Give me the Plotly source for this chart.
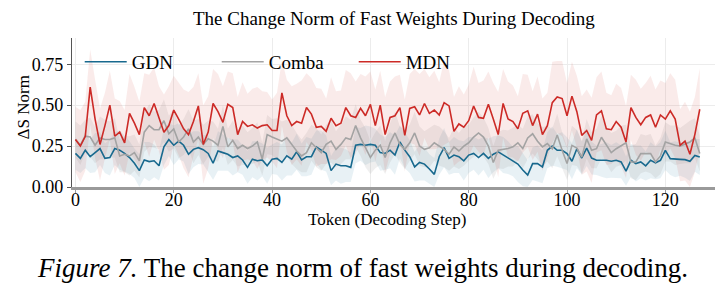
import plotly.graph_objects as go

tokens = list(range(128))

mdn_mean = [0.29, 0.25, 0.31, 0.61, 0.415, 0.26, 0.375, 0.50, 0.31, 0.335, 0.27, 0.45, 0.39, 0.32, 0.485, 0.435,
            0.51, 0.415, 0.335, 0.375, 0.47, 0.415, 0.355, 0.32, 0.40, 0.495, 0.26, 0.335, 0.51, 0.46, 0.395, 0.505,
            0.485, 0.32, 0.40, 0.37, 0.38, 0.36, 0.375, 0.38, 0.345, 0.345, 0.575, 0.435, 0.375, 0.40, 0.39, 0.485,
            0.445, 0.365, 0.37, 0.34, 0.42, 0.375, 0.39, 0.485, 0.435, 0.425, 0.48, 0.435, 0.505, 0.375, 0.50, 0.32,
            0.425, 0.435, 0.485, 0.315, 0.48, 0.49, 0.44, 0.51, 0.45, 0.47, 0.44, 0.515, 0.495, 0.34, 0.385, 0.365,
            0.405, 0.495, 0.425, 0.42, 0.505, 0.415, 0.32, 0.51, 0.415, 0.40, 0.355, 0.45, 0.465, 0.375, 0.445, 0.32,
            0.375, 0.515, 0.55, 0.54, 0.435, 0.555, 0.46, 0.315, 0.345, 0.285, 0.44, 0.465, 0.355, 0.35, 0.40, 0.365,
            0.275, 0.485, 0.425, 0.38, 0.425, 0.44, 0.365, 0.44, 0.415, 0.465, 0.415, 0.255, 0.28, 0.20, 0.32, 0.475]

gdn_mean = [0.205, 0.175, 0.225, 0.185, 0.21, 0.235, 0.175, 0.18, 0.235, 0.225, 0.205, 0.18, 0.145, 0.10, 0.165, 0.155,
            0.16, 0.13, 0.245, 0.29, 0.255, 0.28, 0.255, 0.20, 0.23, 0.24, 0.228, 0.205, 0.145, 0.22, 0.21, 0.20,
            0.18, 0.19, 0.165, 0.12, 0.17, 0.16, 0.165, 0.13, 0.17, 0.175, 0.15, 0.19, 0.17, 0.215, 0.165, 0.185,
            0.185, 0.245, 0.225, 0.205, 0.10, 0.14, 0.13, 0.13, 0.12, 0.255, 0.26, 0.255, 0.26, 0.255, 0.21, 0.205,
            0.225, 0.195, 0.275, 0.225, 0.185, 0.123, 0.15, 0.14, 0.11, 0.077, 0.185, 0.24, 0.175, 0.195, 0.185, 0.16,
            0.195, 0.205, 0.18, 0.205, 0.175, 0.20, 0.215, 0.195, 0.18, 0.155, 0.14, 0.104, 0.073, 0.143, 0.143, 0.123,
            0.224, 0.25, 0.224, 0.224, 0.204, 0.157, 0.234, 0.177, 0.238, 0.177, 0.163, 0.163, 0.163, 0.157, 0.163, 0.153,
            0.097, 0.163, 0.143, 0.153, 0.129, 0.163, 0.147, 0.163, 0.224, 0.173, 0.169, 0.169, 0.167, 0.157, 0.193, 0.183]

comba_mean = [0.29, 0.255, 0.31, 0.305, 0.255, 0.30, 0.29, 0.29, 0.30, 0.19, 0.20, 0.19, 0.21, 0.16, 0.335, 0.375,
              0.35, 0.35, 0.405, 0.325, 0.355, 0.275, 0.305, 0.355, 0.275, 0.305, 0.26, 0.295, 0.28, 0.255, 0.37, 0.245,
              0.285, 0.235, 0.255, 0.235, 0.25, 0.275, 0.17, 0.32, 0.305, 0.29, 0.28, 0.30, 0.26, 0.22, 0.19, 0.21,
              0.27, 0.24, 0.21, 0.26, 0.28, 0.23, 0.26, 0.30, 0.29, 0.375, 0.30, 0.24, 0.18, 0.225, 0.255, 0.18,
              0.27, 0.33, 0.26, 0.23, 0.27, 0.33, 0.25, 0.23, 0.24, 0.27, 0.25, 0.23, 0.20, 0.245, 0.22, 0.25,
              0.27, 0.305, 0.33, 0.305, 0.25, 0.15, 0.225, 0.23, 0.235, 0.245, 0.27, 0.235, 0.30, 0.325, 0.28, 0.245,
              0.265, 0.234, 0.318, 0.224, 0.143, 0.254, 0.238, 0.183, 0.294, 0.224, 0.234, 0.304, 0.254, 0.21, 0.234, 0.254,
              0.27, 0.153, 0.153, 0.204, 0.204, 0.204, 0.153, 0.19, 0.275, 0.265, 0.255, 0.25, 0.265, 0.275, 0.30, 0.205]

mdn_std = [0.20, 0.22, 0.21, 0.23, 0.24, 0.22, 0.20, 0.21, 0.23, 0.19, 0.20, 0.24, 0.22, 0.20, 0.21, 0.25,
           0.22, 0.20, 0.23, 0.24, 0.21, 0.22, 0.24, 0.26, 0.21, 0.20, 0.24, 0.22, 0.21, 0.23, 0.22, 0.20,
           0.21, 0.23, 0.24, 0.20, 0.22, 0.25, 0.21, 0.20, 0.19, 0.23, 0.20, 0.22, 0.24, 0.23, 0.26, 0.21,
           0.22, 0.24, 0.23, 0.20, 0.25, 0.21, 0.20, 0.23, 0.26, 0.22, 0.21, 0.24, 0.20, 0.22, 0.21, 0.23,
           0.22, 0.24, 0.20, 0.22, 0.21, 0.23, 0.25, 0.21, 0.22, 0.24, 0.20, 0.26, 0.22, 0.21, 0.23, 0.20,
           0.22, 0.24, 0.21, 0.23, 0.20, 0.22, 0.26, 0.21, 0.23, 0.22, 0.20, 0.24, 0.22, 0.21, 0.23, 0.22,
           0.20, 0.25, 0.22, 0.23, 0.20, 0.21, 0.22, 0.24, 0.25, 0.26, 0.23, 0.24, 0.22, 0.21, 0.23, 0.24,
           0.22, 0.20, 0.23, 0.22, 0.21, 0.24, 0.23, 0.21, 0.22, 0.23, 0.24, 0.22, 0.24, 0.26, 0.23, 0.25]

gdn_std = [0.10, 0.09, 0.11, 0.10, 0.12, 0.10, 0.09, 0.11, 0.10, 0.12, 0.11, 0.10, 0.09, 0.10, 0.11, 0.12,
           0.10, 0.09, 0.11, 0.10, 0.12, 0.11, 0.10, 0.12, 0.11, 0.10, 0.09, 0.11, 0.10, 0.12, 0.11, 0.10,
           0.11, 0.10, 0.09, 0.10, 0.11, 0.12, 0.10, 0.11, 0.09, 0.10, 0.11, 0.12, 0.10, 0.11, 0.10, 0.12,
           0.11, 0.10, 0.12, 0.11, 0.09, 0.10, 0.11, 0.10, 0.09, 0.11, 0.10, 0.12, 0.11, 0.10, 0.11, 0.10,
           0.11, 0.12, 0.10, 0.11, 0.10, 0.09, 0.11, 0.10, 0.09, 0.10, 0.11, 0.12, 0.10, 0.11, 0.10, 0.12,
           0.11, 0.10, 0.11, 0.10, 0.12, 0.11, 0.10, 0.11, 0.10, 0.09, 0.11, 0.10, 0.09, 0.10, 0.11, 0.10,
           0.11, 0.12, 0.10, 0.11, 0.10, 0.11, 0.12, 0.10, 0.11, 0.10, 0.09, 0.10, 0.11, 0.10, 0.11, 0.10,
           0.09, 0.10, 0.11, 0.10, 0.09, 0.11, 0.10, 0.11, 0.12, 0.10, 0.11, 0.10, 0.11, 0.12, 0.10, 0.11]

comba_std = [0.11, 0.12, 0.10, 0.12, 0.11, 0.13, 0.12, 0.11, 0.12, 0.10, 0.11, 0.12, 0.11, 0.10, 0.12, 0.13,
             0.11, 0.12, 0.13, 0.11, 0.12, 0.10, 0.11, 0.12, 0.13, 0.11, 0.12, 0.11, 0.12, 0.10, 0.13, 0.11,
             0.12, 0.11, 0.12, 0.10, 0.11, 0.12, 0.10, 0.12, 0.11, 0.13, 0.12, 0.11, 0.12, 0.11, 0.10, 0.12,
             0.11, 0.12, 0.11, 0.12, 0.13, 0.11, 0.12, 0.13, 0.12, 0.13, 0.11, 0.12, 0.10, 0.11, 0.12, 0.10,
             0.12, 0.13, 0.11, 0.12, 0.11, 0.13, 0.12, 0.11, 0.12, 0.11, 0.12, 0.11, 0.10, 0.12, 0.11, 0.12,
             0.11, 0.12, 0.13, 0.12, 0.11, 0.10, 0.11, 0.12, 0.11, 0.12, 0.11, 0.12, 0.13, 0.12, 0.11, 0.12,
             0.11, 0.12, 0.13, 0.11, 0.10, 0.12, 0.11, 0.10, 0.12, 0.11, 0.12, 0.13, 0.11, 0.12, 0.11, 0.12,
             0.11, 0.10, 0.11, 0.12, 0.11, 0.12, 0.10, 0.11, 0.12, 0.11, 0.12, 0.11, 0.12, 0.13, 0.12, 0.11]

series_names = ["GDN", "Comba", "MDN"]
line_colors = ["#18698e", "#a3a3a3", "#cc2a26"]
band_colors = ["rgba(80,150,175,0.13)", "rgba(140,140,140,0.14)", "rgba(215,90,85,0.12)"]
means = [gdn_mean, comba_mean, mdn_mean]
stds = [gdn_std, comba_std, mdn_std]

FONT = "Liberation Serif"

fig = go.Figure()

# bands first
for name, m, s, bc in zip(series_names, means, stds, band_colors):
    upper = [a + b for a, b in zip(m, s)]
    lower = [max(a - b, 0.0) for a, b in zip(m, s)]
    fig.add_trace(go.Scatter(x=tokens, y=upper, mode="lines", line=dict(width=0),
                             showlegend=False, hoverinfo="skip"))
    fig.add_trace(go.Scatter(x=tokens, y=lower, mode="lines", line=dict(width=0),
                             fill="tonexty", fillcolor=bc, showlegend=False, hoverinfo="skip"))

for name, m, lc in zip(series_names, means, line_colors):
    fig.add_trace(go.Scatter(x=tokens, y=m, mode="lines", name=name,
                             line=dict(color=lc, width=1.6)))

fig.update_layout(
    width=725, height=298,
    margin=dict(l=72, r=10, t=38, b=111),
    paper_bgcolor="white", plot_bgcolor="white",
    font=dict(family=FONT, size=16, color="black"),
    showlegend=True,
    legend=dict(orientation="h", x=0.012, y=0.84, xanchor="left", yanchor="middle",
                traceorder="normal", itemwidth=42,
                bgcolor="rgba(0,0,0,0)", borderwidth=0, font=dict(size=19, family=FONT),
                entrywidth=80, entrywidthmode="pixels"),
    xaxis=dict(range=[-0.7, 130.1], tickvals=[0, 20, 40, 60, 80, 100, 120],
               ticktext=["0", "20", "40", "60", "80", "100", "120"],
               showgrid=True, gridcolor="#ececec", gridwidth=1, zeroline=False,
               showline=True, linecolor="#9a9a9a", linewidth=2.5,
               ticks="outside", ticklen=3, tickcolor="#9a9a9a", tickwidth=1,
               ticklabelstandoff=-8,
               tickfont=dict(size=18, family=FONT)),
    yaxis=dict(range=[0, 0.91], tickvals=[0.0, 0.25, 0.5, 0.75],
               ticktext=["0.00", "0.25", "0.50", "0.75"],
               showgrid=True, gridcolor="#ececec", gridwidth=1, zeroline=False,
               showline=True, linecolor="#555555", linewidth=1.2,
               ticks="outside", ticklen=4, tickcolor="#555555", tickwidth=1,
               tickfont=dict(size=18, family=FONT)),
    annotations=[
        dict(text="The Change Norm of Fast Weights During Decoding", xref="paper", yref="paper",
             x=0.5, y=1.134, xanchor="center", yanchor="middle", showarrow=False,
             font=dict(size=19, family=FONT)),
        dict(text="Token (Decoding Step)", xref="paper", yref="paper",
             x=0.49, y=-0.215, xanchor="center", yanchor="middle", showarrow=False,
             font=dict(size=17, family=FONT)),
        dict(text="ΔS Norm", xref="paper", yref="paper",
             x=-0.074, y=0.537, xanchor="center", yanchor="middle", showarrow=False,
             textangle=-90, font=dict(size=17, family=FONT)),
        dict(text="<i>Figure 7.</i> The change norm of fast weights during decoding.",
             xref="paper", yref="paper", x=0.452, y=-0.544, xanchor="center", yanchor="middle",
             showarrow=False, font=dict(size=27, family=FONT)),
    ],
)

fig.write_html("out.html")
